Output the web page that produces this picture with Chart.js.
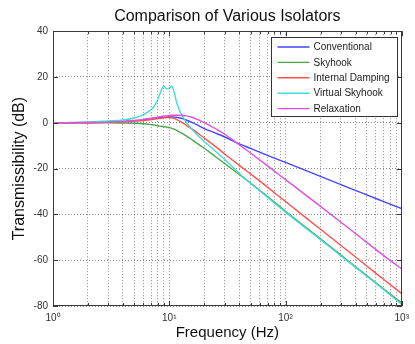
<!DOCTYPE html>
<html>
<head>
<meta charset="utf-8">
<script src="https://cdn.jsdelivr.net/npm/chart.js@4/dist/chart.umd.min.js"></script>
<style>
  html, body { margin: 0; padding: 0; background: #fff; }
  #wrap { width: 415px; height: 344px; }
</style>
</head>
<body>
<div id="wrap"><canvas id="c" width="415" height="344"></canvas></div>
<script>
// Frequency points (Hz)
const freq = [1,2,3,4,5,6,7,7.5,8,8.5,9,9.5,10,10.5,11,11.5,12,13,14,16,18,20,25,30,40,50,70,100,200,300,500,700,1000];

// Transmissibility (dB) for each isolator
const conventional = [0,0.1,0.3,0.6,0.9,1.3,1.7,1.9,2.1,2.3,2.4,2.5,2.6,2.6,2.5,2.4,2.2,1.8,1.2,0,-1.3,-2.5,-4.5,-6.2,-9.2,-11.2,-14.2,-17.3,-23.4,-27,-31.5,-34.4,-37.5];
const skyhook = [0,0,0,-0.1,-0.2,-0.4,-0.8,-1.0,-1.3,-1.5,-1.7,-1.9,-2.1,-2.4,-2.8,-3.2,-3.7,-4.7,-5.7,-7.7,-9.5,-11.1,-14.8,-17.8,-22.6,-26.3,-32.2,-38.6,-50.7,-57.8,-66.7,-72.6,-78.7];
const internalDamping = [0,0.05,0.2,0.4,0.7,1.0,1.4,1.6,1.8,2.0,2.2,2.3,2.3,2.2,1.9,1.5,1.0,0,-1.1,-3.0,-4.9,-6.7,-10.4,-13.6,-18.6,-22.3,-28.1,-34.4,-46.5,-53.6,-62.5,-68.4,-74.6];
const virtualSkyhook = [0,0.3,0.8,1.2,2.1,3.6,5.8,7.6,10.5,14.0,16.0,14.8,15.2,16.0,13.5,9.5,6.5,2.8,0.3,-3.4,-6.0,-8.2,-12.4,-16.0,-22.1,-26.4,-32.5,-39.0,-51.0,-58.1,-67.0,-72.9,-79.3];
const relaxation = [0,0.1,0.3,0.6,1.0,1.5,2.0,2.2,2.5,2.7,2.9,3.0,3.2,3.3,3.3,3.3,3.3,3.2,3.0,2.2,1.2,0.1,-2.6,-5.0,-9.6,-13.2,-18.8,-24.8,-36.5,-43.4,-52.2,-58.0,-63.8];

const seriesLabels = ['Conventional','Skyhook','Internal Damping','Virtual Skyhook','Relaxation'];
const seriesValues = [conventional, skyhook, internalDamping, virtualSkyhook, relaxation];
const seriesColors = ['#4646ff','#4aa84a','#ff5050','#44dada','#e050e0'];

// Axis ticks
const xMajorTicks = [1,10,100,1000];
const xTickLabels = ['10\u2070','10\u00B9','10\u00B2','10\u00B3'];
const yTicks = [-80,-60,-40,-20,0,20,40];

const xAllTicks = [];
for (let d = 1; d < 1000; d *= 10) for (let k = 1; k < 10; k++) xAllTicks.push(k * d);
xAllTicks.push(1000);

Chart.defaults.font.family = "'Liberation Sans', Arial, sans-serif";
Chart.defaults.color = '#222';

const datasets = seriesLabels.map((lab, i) => ({
  label: lab,
  data: freq.map((f, j) => ({ x: f, y: seriesValues[i][j] })),
  borderColor: seriesColors[i],
  backgroundColor: seriesColors[i],
  borderWidth: 1.4,
  pointRadius: 0,
  fill: false,
  cubicInterpolationMode: 'monotone',
  order: seriesLabels.length - i
}));

const framePlugin = {
  id: 'frame',
  afterDraw(chart) {
    const { ctx, chartArea: a, scales } = chart;
    const xs = scales.x, ys = scales.y;
    ctx.save();
    ctx.strokeStyle = '#3a3a3a';
    ctx.lineWidth = 1;
    ctx.setLineDash([]);
    ctx.strokeRect(Math.round(a.left) + 0.5, Math.round(a.top) + 0.5,
                   Math.round(a.right - a.left) - 1, Math.round(a.bottom - a.top) - 1);
    // inward tick marks
    ctx.beginPath();
    xAllTicks.forEach(v => {
      const px = Math.round(xs.getPixelForValue(v)) + 0.5;
      const len = xMajorTicks.includes(v) ? 5 : 3;
      ctx.moveTo(px, a.bottom); ctx.lineTo(px, a.bottom - len);
      ctx.moveTo(px, a.top); ctx.lineTo(px, a.top + len);
    });
    yTicks.forEach(v => {
      const py = Math.round(ys.getPixelForValue(v)) + 0.5;
      ctx.moveTo(a.left, py); ctx.lineTo(a.left + 5, py);
      ctx.moveTo(a.right, py); ctx.lineTo(a.right - 5, py);
    });
    ctx.stroke();

    // legend box inside plot
    const bw = 126, bh = 79;
    const bx = Math.round(a.right - bw - 5) + 0.5, by = Math.round(a.top + 6) + 0.5;
    ctx.fillStyle = '#fff';
    ctx.fillRect(bx, by, bw, bh);
    ctx.strokeStyle = '#333';
    ctx.strokeRect(bx, by, bw, bh);
    ctx.font = "10px 'Liberation Sans', Arial, sans-serif";
    ctx.textBaseline = 'middle';
    ctx.textAlign = 'left';
    chart.data.datasets.forEach((ds, i) => {
      const yy = by + 9.5 + i * 15.4;
      ctx.strokeStyle = ds.borderColor;
      ctx.lineWidth = 1.4;
      ctx.beginPath();
      ctx.moveTo(bx + 6, yy); ctx.lineTo(bx + 38, yy);
      ctx.stroke();
      ctx.fillStyle = '#222';
      ctx.fillText(ds.label, bx + 42, yy + 0.5);
    });
    ctx.restore();
  }
};

new Chart(document.getElementById('c'), {
  type: 'line',
  data: { datasets },
  options: {
    responsive: false,
    animation: false,
    layout: { padding: { left: 0, right: 10, top: 0, bottom: 0 } },
    plugins: {
      legend: { display: false },
      tooltip: { enabled: false },
      title: {
        display: true,
        text: 'Comparison of Various Isolators',
        fullSize: false,
        color: '#111',
        font: { size: 16, weight: 'normal' },
        padding: { top: 7, bottom: 5 }
      }
    },
    scales: {
      x: {
        type: 'logarithmic',
        min: 1, max: 1000,
        afterBuildTicks: (s) => { s.ticks = xAllTicks.map(v => ({ value: v })); },
        afterFit: (s) => { s.height = 38; },
        ticks: {
          autoSkip: false, maxRotation: 0, padding: 6,
          font: { size: 10 }, color: '#333',
          callback: (v) => { const k = xMajorTicks.indexOf(v); return k >= 0 ? xTickLabels[k] : ''; }
        },
        grid: { color: 'rgba(0,0,0,0.45)', lineWidth: 1, drawTicks: false },
        border: { display: false, dash: [1, 2] },
        title: { display: true, text: 'Frequency (Hz)', color: '#111', font: { size: 15 }, padding: { top: 0, bottom: 2 } }
      },
      y: {
        type: 'linear',
        min: -80, max: 40,
        afterBuildTicks: (s) => { s.ticks = yTicks.map(v => ({ value: v })); },
        afterFit: (s) => { s.width = 53; },
        ticks: { padding: 5, font: { size: 10 }, color: '#333' },
        grid: { color: 'rgba(0,0,0,0.45)', lineWidth: 1, drawTicks: false },
        border: { display: false, dash: [1, 2] },
        title: { display: true, text: 'Transmissibility (dB)', color: '#111', font: { size: 16 }, padding: { top: 10 } }
      }
    }
  },
  plugins: [framePlugin]
});
</script>
</body>
</html>
